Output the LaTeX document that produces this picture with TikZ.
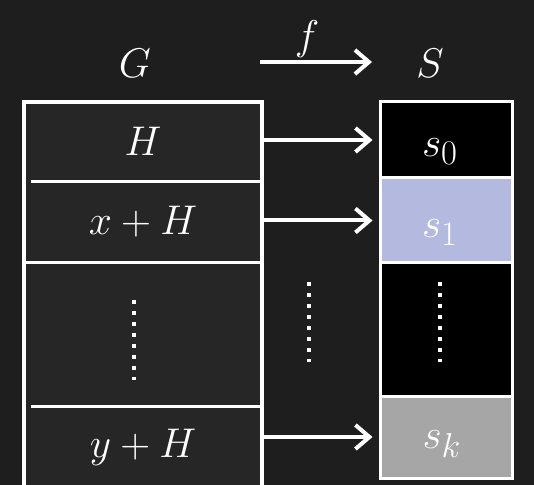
\documentclass[tikz,border=0pt]{standalone}
\usetikzlibrary{arrows.meta}

\DeclareMathSizes{21}{21}{17}{13}
\definecolor{bgdark}{HTML}{1E1E1E}
\definecolor{cosetgray}{HTML}{262626}
\definecolor{lavender}{HTML}{B4B9E0}
\definecolor{midgray}{HTML}{A6A6A6}

\begin{document}
\begin{tikzpicture}[
  x=0.5pt, y=-0.5pt,
  font=\fontsize{21}{25}\selectfont,
  lbl/.style={text=white, inner sep=0pt},
  row/.style={minimum width=119pt, text=white, inner sep=0pt},
  cell/.style={
    draw=white, line width=1.5pt,
    minimum width=66pt, inner sep=0pt
  },
  sep/.style={draw=white, line width=1.5pt},
  arr/.style={-{Straight Barb[length=7pt,width=12pt]}, line width=2pt, draw=white},
  vdots/.style={draw=white, line width=2pt, dash pattern=on 2pt off 3.5pt}
]
  \fill[bgdark] (0,0) rectangle (534,485);
  \useasboundingbox (0,0) rectangle (534,485);
  \clip (0,0) rectangle (534,485);

  % group G and its cosets
  \node[lbl] (G) at (135,63) {$G$};
  \draw[white, line width=2pt, fill=cosetgray] (24,102) rectangle (262,500);
  \node[row, minimum height=40.5pt] (rH) at (143,141) {$H$};
  \node[row, minimum height=40pt] (rx) at (143,222) {$x+H$};
  \node[row, minimum height=72pt] (rdots) at (143,335) {};
  \node[row, minimum height=40pt] (ry) at (143,447) {$y+H$};
  \draw[sep] ([xshift=3.5pt]rH.south west) -- (rH.south east);
  \draw[sep] (rx.south west) -- (rx.south east);
  \draw[sep] ([xshift=3.5pt]ry.north west) -- (ry.north east);
  \draw[vdots] (134,300) -- (134,380);

  % set S
  \node[lbl] (S) at (430,63) {$S$};
  \node[cell, fill=black, minimum height=38pt] (s0) at (446,140) {};
  \node[cell, fill=lavender, minimum height=42.5pt] (s1) at (446,220.5) {};
  \node[cell, fill=black, minimum height=66.5pt] (sdots) at (446,329.5) {};
  \node[cell, fill=midgray, minimum height=41pt] (sk) at (446,437) {};
  \node[lbl] (t0) at ([xshift=-3pt, yshift=-6pt]s0) {$s_0$};
  \node[lbl] (t1) at ([xshift=-3pt, yshift=-6pt]s1) {$s_1$};
  \node[lbl] (tk) at ([xshift=-2pt, yshift=-3.5pt]sk) {$s_k$};
  \draw[vdots] (440,282) -- (440,362);

  % the map f
  \coordinate (fa) at (260,62);
  \coordinate (fb) at (372,62);
  \draw[arr] (fa) -- node[lbl, above=1pt, pos=0.42] (f) {$f$} (fb);
  \draw[arr, shorten >=3pt] (s0.west -| rH.east) -- (s0.west);
  \draw[arr, shorten >=3pt] (s1.west -| rx.east) -- (s1.west);
  \draw[arr, shorten >=3pt] (sk.west -| ry.east) -- (sk.west);
  \draw[vdots] (309,282) -- (309,362);
\end{tikzpicture}
\end{document}
